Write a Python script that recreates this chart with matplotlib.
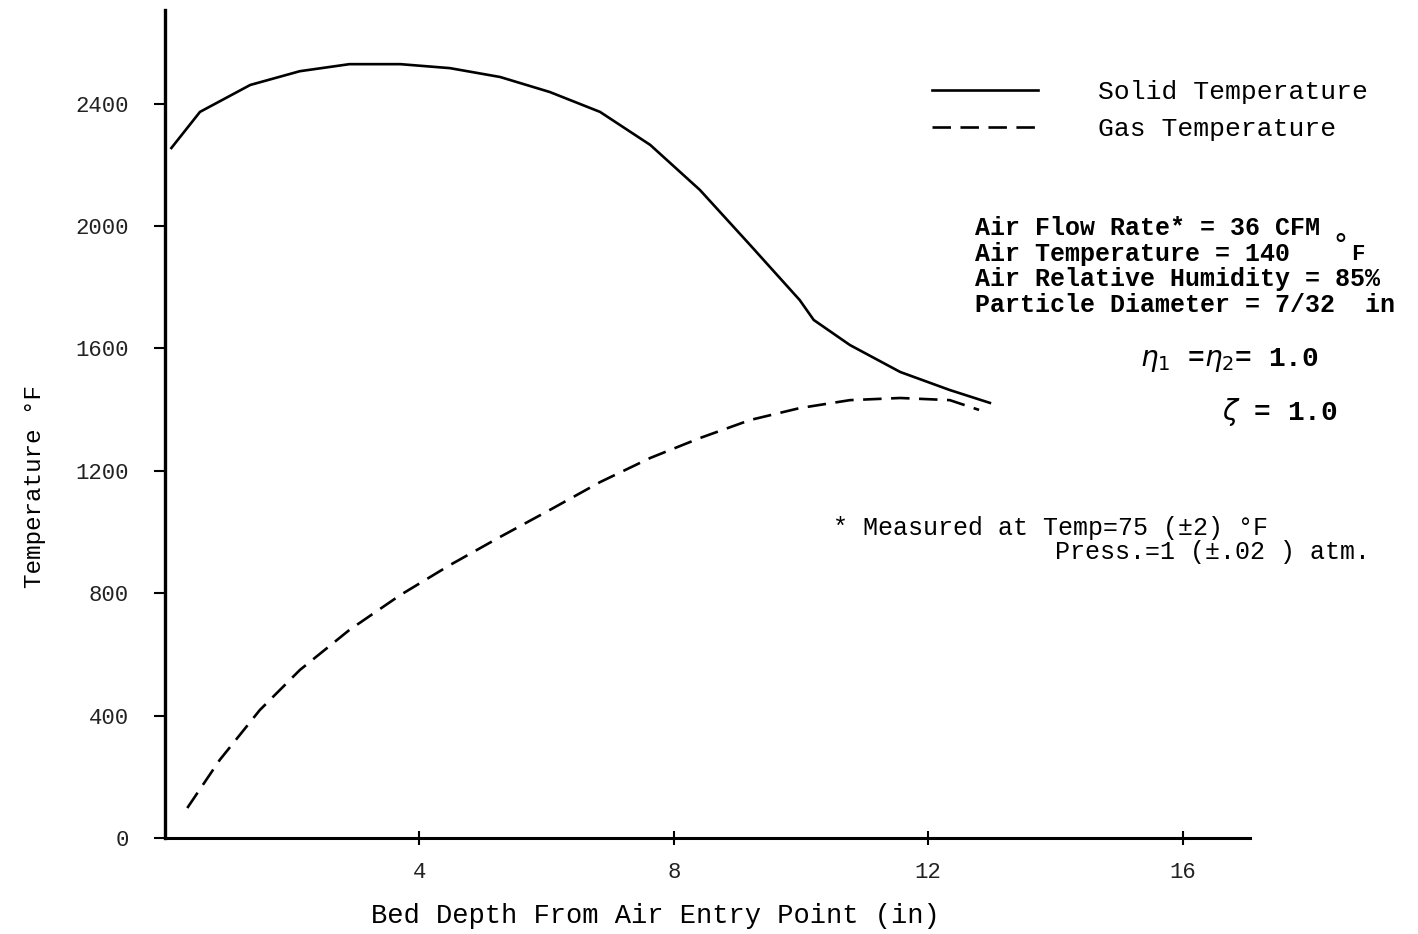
import matplotlib
matplotlib.use("Agg")
import matplotlib.pyplot as plt

# bed depth (in) and temperature (deg F)
solid_x = [0.1, 0.55, 1.34, 2.12, 2.9, 3.7, 4.48, 5.27, 6.05, 6.84, 7.63,
           8.41, 9.2, 9.98, 10.2, 10.77, 11.56, 12.34, 12.97]
solid_t = [2255, 2373, 2461, 2506, 2529, 2529, 2516, 2487, 2438, 2373, 2265,
           2118, 1938, 1758, 1693, 1611, 1523, 1464, 1422]

gas_x = [0.35, 0.86, 1.49, 2.12, 2.9, 3.7, 4.48, 5.27, 6.05, 6.84, 7.63,
         8.41, 9.2, 9.98, 10.77, 11.56, 12.34, 12.8]
gas_t = [98, 255, 418, 549, 680, 794, 892, 984, 1072, 1163, 1242,
         1307, 1366, 1405, 1431, 1438, 1431, 1399]

x_ticks = [4, 8, 12, 16]
y_ticks = [0, 400, 800, 1200, 1600, 2000, 2400]

params = ["Air Flow Rate* = 36 CFM",
          "Air Temperature = 140",
          "Air Relative Humidity = 85%",
          "Particle Diameter = 7/32  in"]

W, H = 1418, 934
MONO = ["Liberation Mono", "DejaVu Sans Mono"]


def px(x, y):
    return x / W, 1 - y / H


fig = plt.figure(figsize=(W / 100, H / 100), dpi=100)
ax = fig.add_axes([165 / W, 1 - 838 / H, (1250 - 165) / W, (838 - 10) / H])

ax.plot(solid_x, solid_t, color="black", lw=1.9, label="Solid Temperature")
ax.plot(gas_x, gas_t, color="black", lw=1.9, dashes=(7, 3.6),
        label="Gas Temperature")

ax.set_xlim(0, 17.06)
ax.set_ylim(0, 2706)
for s in ("top", "right"):
    ax.spines[s].set_visible(False)
ax.spines["left"].set_linewidth(2.4)
ax.spines["bottom"].set_linewidth(2.2)

ax.set_xticks(x_ticks)
ax.set_yticks(y_ticks)
ax.tick_params(axis="x", direction="inout", length=10, width=1.5, pad=12,
               labelsize=16)
ax.tick_params(axis="y", direction="out", length=8, width=1.5, pad=18,
               labelsize=16)
for lab in ax.get_xticklabels() + ax.get_yticklabels():
    lab.set_family(MONO)
    lab.set_color("#222222")

ax.set_xlabel("Bed Depth From Air Entry Point (in)", family=MONO,
              fontsize=19.5, va="center")
ax.xaxis.set_label_coords((655 - 165) / 1085, -(916 - 838) / 828)
ax.set_ylabel("Temperature °F", family=MONO, fontsize=17.5, va="center")
ax.yaxis.set_label_coords(-(165 - 35) / 1085, (838 - 487) / 828)

leg = ax.legend(loc="upper left", bbox_to_anchor=px(932, 80),
                bbox_transform=fig.transFigure, frameon=False,
                prop={"family": MONO, "size": 19}, handlelength=4.0,
                handletextpad=2.3, labelspacing=0.5, borderpad=0,
                borderaxespad=0)

for i, line in enumerate(params):
    fig.text(*px(975, 228 + 25.5 * i), line, family=MONO, fontsize=18,
             fontweight="bold", va="center", ha="left")
fig.text(*px(1333, 246), "°", family="DejaVu Sans", fontsize=20,
         va="center", ha="left")
fig.text(*px(1351, 254), "F", family=MONO, fontsize=16, fontweight="bold",
         va="center", ha="left")

fig.text(*px(1140, 360), r"$\eta_1$ =$\eta_2$= 1.0", family=MONO,
         fontsize=20, fontweight="bold", va="center", ha="left")
fig.text(*px(1222, 412), r"$\zeta$ = 1.0", family=MONO, fontsize=20,
         fontweight="bold", va="center", ha="left")

fig.text(*px(833, 528), "* Measured at Temp=75 (±2) °F", family=MONO,
         fontsize=18, va="center", ha="left")
fig.text(*px(1055, 552), "Press.=1 (±.02 ) atm.", family=MONO,
         fontsize=18, va="center", ha="left")

fig.savefig("out.png", dpi=100)
